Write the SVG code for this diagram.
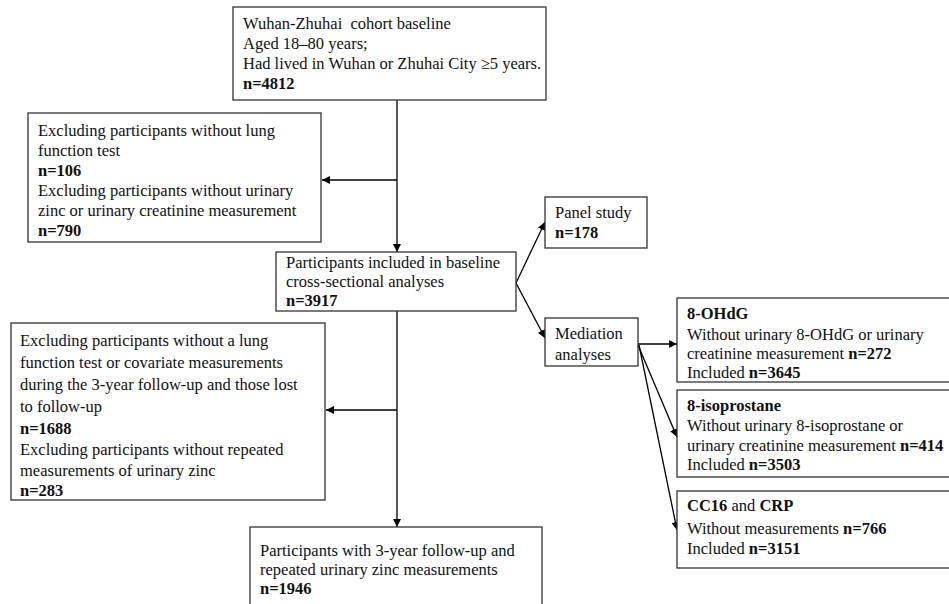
<svg xmlns="http://www.w3.org/2000/svg" width="949" height="604" viewBox="0 0 949 604">
<defs>
<style>
.box{fill:#fff;stroke:#333;stroke-width:1.3}
text{font-family:"Liberation Serif","Times New Roman",serif;font-size:16.5px;fill:#111;white-space:pre}
.b{font-weight:bold}
.ln{stroke:#000;stroke-width:1.3;fill:none}
</style>
<marker id="ah" viewBox="0 0 10 10" refX="10" refY="5" markerWidth="8" markerHeight="8" markerUnits="userSpaceOnUse" orient="auto">
<path d="M0,0 L10,5 L0,10 z" fill="#000"/>
</marker>
</defs>
<rect width="949" height="604" fill="#fff"/>
<g id="connectors">
<line class="ln" x1="397" y1="100" x2="397" y2="252" marker-end="url(#ah)"/>
<line class="ln" x1="397" y1="180" x2="322" y2="180" marker-end="url(#ah)"/>
<line class="ln" x1="397" y1="311" x2="397" y2="527" marker-end="url(#ah)"/>
<line class="ln" x1="397" y1="410" x2="326" y2="410" marker-end="url(#ah)"/>
<line class="ln" x1="516" y1="283" x2="545" y2="222" marker-end="url(#ah)"/>
<line class="ln" x1="516" y1="283" x2="545" y2="338" marker-end="url(#ah)"/>
<line class="ln" x1="638" y1="344" x2="677" y2="344" marker-end="url(#ah)"/>
<line class="ln" x1="638" y1="345" x2="677" y2="437" marker-end="url(#ah)"/>
<line class="ln" x1="639" y1="345" x2="677" y2="530" marker-end="url(#ah)"/>
</g>
<g id="baseline">
<rect class="box" x="233" y="7" width="313" height="93"/>
<text x="243" y="29">Wuhan-Zhuhai  cohort baseline</text>
<text x="243" y="49">Aged 18–80 years;</text>
<text x="243" y="69">Had lived in Wuhan or Zhuhai City ≥5 years.</text>
<text x="243" y="89" class="b">n=4812</text>
</g>
<g id="exclude1">
<rect class="box" x="28" y="113" width="293" height="129"/>
<text x="38" y="136">Excluding participants without lung</text>
<text x="38" y="156">function test</text>
<text x="38" y="176" class="b">n=106</text>
<text x="38" y="196">Excluding participants without urinary</text>
<text x="38" y="216">zinc or urinary creatinine measurement</text>
<text x="38" y="236" class="b">n=790</text>
</g>
<g id="crosssectional">
<rect class="box" x="276" y="252" width="240" height="59"/>
<text x="286" y="268">Participants included in baseline</text>
<text x="286" y="287">cross-sectional analyses</text>
<text x="286" y="306" class="b">n=3917</text>
</g>
<g id="panel">
<rect class="box" x="545" y="197" width="102" height="51"/>
<text x="555" y="218">Panel study</text>
<text x="555" y="238" class="b">n=178</text>
</g>
<g id="mediation">
<rect class="box" x="545" y="318" width="93" height="48"/>
<text x="555" y="339">Mediation</text>
<text x="555" y="360">analyses</text>
</g>
<g id="ohdg">
<rect class="box" x="677" y="298" width="290" height="84"/>
<text x="687" y="319" class="b">8-OHdG</text>
<text x="687" y="340">Without urinary 8-OHdG or urinary</text>
<text x="687" y="359">creatinine measurement <tspan class="b">n=272</tspan></text>
<text x="687" y="378">Included <tspan class="b">n=3645</tspan></text>
</g>
<g id="isoprostane">
<rect class="box" x="677" y="390" width="290" height="87"/>
<text x="687" y="411" class="b">8-isoprostane</text>
<text x="687" y="431">Without urinary 8-isoprostane or</text>
<text x="687" y="451">urinary creatinine measurement <tspan class="b">n=414</tspan></text>
<text x="687" y="470">Included <tspan class="b">n=3503</tspan></text>
</g>
<g id="cc16crp">
<rect class="box" x="677" y="491" width="290" height="77"/>
<text x="687" y="511"><tspan class="b">CC16</tspan> and <tspan class="b">CRP</tspan></text>
<text x="687" y="534">Without measurements <tspan class="b">n=766</tspan></text>
<text x="687" y="554">Included <tspan class="b">n=3151</tspan></text>
</g>
<g id="exclude2">
<rect class="box" x="11" y="323" width="314" height="177"/>
<text x="20" y="346">Excluding participants without a lung</text>
<text x="20" y="368">function test or covariate measurements</text>
<text x="20" y="390">during the 3-year follow-up and those lost</text>
<text x="20" y="412">to follow-up</text>
<text x="20" y="434" class="b">n=1688</text>
<text x="20" y="455">Excluding participants without repeated</text>
<text x="20" y="476">measurements of urinary zinc</text>
<text x="20" y="496" class="b">n=283</text>
</g>
<g id="followup">
<rect class="box" x="250" y="527" width="292" height="90"/>
<text x="260" y="556">Participants with 3-year follow-up and</text>
<text x="260" y="575">repeated urinary zinc measurements</text>
<text x="260" y="594" class="b">n=1946</text>
</g>
</svg>
